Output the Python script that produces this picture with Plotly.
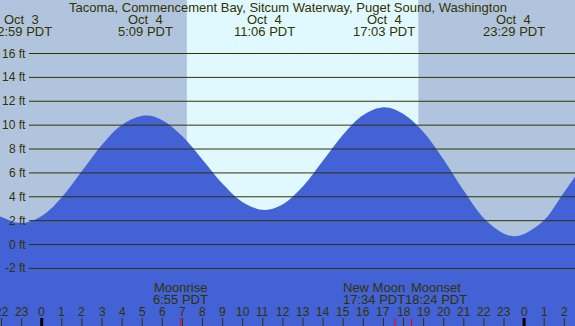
import plotly.graph_objects as go

# ---- data (hours relative to Oct 4 00:00 PDT) ----
tide_hours = [-3, -2, -1.017, 0, 1, 2, 3, 4, 5.15, 6, 7, 8, 9, 10, 11.1, 12, 13, 14, 15, 16,
              17.05, 18, 19, 20, 21, 22, 23, 23.483, 24, 25, 26, 27]
tide_feet = [3.2, 2.3, 1.8, 2.39, 3.97, 6.15, 8.36, 10.04, 10.8, 10.41, 9.06, 7.11, 5.09, 3.55, 2.9,
             3.38, 4.88, 7.03, 9.22, 10.86, 11.5, 10.93, 9.4, 7.1, 4.5, 2.2, 0.9, 0.7, 0.88, 2.05, 4.4, 6.8]

extreme_hours = [-1.017, 5.15, 11.1, 17.05, 23.483]
extreme_dates = ["Oct  3", "Oct  4", "Oct  4", "Oct  4", "Oct  4"]
extreme_times = ["22:59 PDT", "5:09 PDT", "11:06 PDT", "17:03 PDT", "23:29 PDT"]

sunrise_hour = 7.22
sunset_hour = 18.74

moon_hours = [6.917, 17.567, 18.4]
moon_names = ["Moonrise", "New Moon", "Moonset"]
moon_times = ["6:55 PDT", "17:34 PDT", "18:24 PDT"]
moon_label_shift = [0, -21, 24]

hour_ticks = list(range(-2, 27))
hour_labels = [str(h % 24) for h in hour_ticks]

ft_ticks = [-2, 0, 2, 4, 6, 8, 10, 12, 14, 16]
ft_labels = [f"{v} ft" for v in ft_ticks]

title = "Tacoma, Commencement Bay, Sitcum Waterway, Puget Sound, Washington"

# ---- style ----
W, H = 575, 326
NIGHT = "#b0c4de"
DAY = "#e0f8ff"
WATER = "#4262d6"
TXT = "#333300"
FONT = "Liberation Sans, Arial, sans-serif"
XR = [-2.075, 26.532]
YR = [-6.82, 20.48]

fig = go.Figure()
fig.add_trace(go.Scatter(x=[tide_hours[0], tide_hours[-1]], y=[-10, -10], mode="lines",
                         line=dict(width=0, color=WATER), hoverinfo="skip", showlegend=False))
fig.add_trace(go.Scatter(x=tide_hours, y=tide_feet, mode="lines", fill="tonexty",
                         fillcolor=WATER, line=dict(width=0, color=WATER, shape="spline", smoothing=1),
                         hoverinfo="skip", showlegend=False))

shapes = []
shapes.append(dict(type="rect", xref="x", yref="paper", x0=sunrise_hour, x1=sunset_hour, y0=0, y1=1,
                   fillcolor=DAY, line=dict(width=0), layer="below"))
for v in ft_ticks:
    shapes.append(dict(type="line", xref="paper", yref="y", x0=29 / W, x1=1, y0=v, y1=v,
                       line=dict(color=TXT, width=1), layer="above"))
for h in hour_ticks:
    midnight = (h % 24 == 0)
    shapes.append(dict(type="line", xref="x", yref="paper", x0=h, x1=h, y0=0, y1=8 / H,
                       line=dict(color="#000000" if midnight else TXT, width=3 if midnight else 1),
                       layer="above"))
for mh in moon_hours:
    shapes.append(dict(type="line", xref="x", yref="paper", x0=mh, x1=mh, y0=0, y1=8 / H,
                       line=dict(color="#ff0000", width=1), layer="above"))

ann = []
def py(px):
    return 1 - px / H

ann.append(dict(text=title, xref="paper", yref="paper", x=0.5, y=py(7.5), showarrow=False,
                xanchor="center", yanchor="middle", font=dict(size=13, color=TXT, family=FONT)))
for h, d, t in zip(extreme_hours, extreme_dates, extreme_times):
    ann.append(dict(text=d.replace(" ", "\u00a0"), xref="x", yref="paper", x=h, y=py(19.5), showarrow=False,
                    xanchor="center", yanchor="middle", font=dict(size=13, color=TXT, family=FONT)))
    ann.append(dict(text=t, xref="x", yref="paper", x=h, y=py(31.5), showarrow=False,
                    xanchor="center", yanchor="middle", font=dict(size=13, color=TXT, family=FONT)))
for v, lab in zip(ft_ticks, ft_labels):
    ann.append(dict(text=lab, xref="paper", yref="y", x=28 / W, y=v, showarrow=False,
                    xanchor="right", yanchor="middle", font=dict(size=12, color=TXT, family=FONT)))
for h, lab in zip(hour_ticks, hour_labels):
    ann.append(dict(text=lab, xref="x", yref="paper", x=h, y=py(311.5), showarrow=False,
                    xanchor="center", yanchor="middle", font=dict(size=12, color=TXT, family=FONT)))
for mh, n, t, s in zip(moon_hours, moon_names, moon_times, moon_label_shift):
    ann.append(dict(text=n, xref="x", yref="paper", x=mh, y=py(287.5), showarrow=False, xshift=s,
                    xanchor="center", yanchor="middle", font=dict(size=13, color=TXT, family=FONT)))
    ann.append(dict(text=t, xref="x", yref="paper", x=mh, y=py(299.5), showarrow=False, xshift=s,
                    xanchor="center", yanchor="middle", font=dict(size=13, color=TXT, family=FONT)))

fig.update_layout(
    width=W, height=H, margin=dict(l=0, r=0, t=0, b=0),
    plot_bgcolor=NIGHT, paper_bgcolor=NIGHT,
    xaxis=dict(range=XR, showgrid=False, zeroline=False, showticklabels=False, ticks="", fixedrange=True),
    yaxis=dict(range=YR, showgrid=False, zeroline=False, showticklabels=False, ticks="", fixedrange=True),
    shapes=shapes, annotations=ann, hovermode=False, showlegend=False,
)
fig.write_html("out.html", config={"displayModeBar": False},
               post_script="document.body.style.margin='0';document.body.style.padding='0';document.body.style.overflow='hidden';")
